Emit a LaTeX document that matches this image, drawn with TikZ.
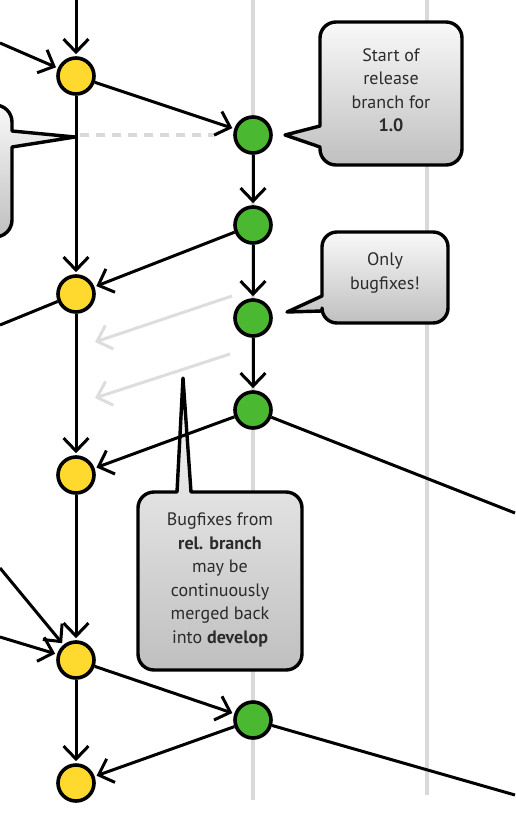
\documentclass[tikz,border=0pt]{standalone}
\usepackage{fontspec}
\setmainfont{PT Sans}
\usetikzlibrary{arrows.meta}
\definecolor{devyellow}{HTML}{FFD92E}
\definecolor{relgreen}{HTML}{4BB832}
\definecolor{lanegray}{HTML}{D9D9D9}
\definecolor{ghost}{HTML}{DDDDDD}
\definecolor{txt}{HTML}{2B2B2B}
\tikzset{
  lane/.style={line width=4pt, lanegray},
  yel/.style={circle, draw=black, line width=3.6pt, fill=devyellow, minimum size=36pt, inner sep=0pt},
  grn/.style={circle, draw=black, line width=3.6pt, fill=relgreen, minimum size=36pt, inner sep=0pt},
  flow/.style={line width=3pt, black, -{Straight Barb[length=13pt,width=25pt,line width=3pt]}, shorten >=2pt},
  plain/.style={line width=3pt, black},
  ghostarrow/.style={line width=3pt, ghost, -{Straight Barb[length=13pt,width=25pt,line width=3pt]}},
  dashline/.style={line width=3.5pt, lanegray, dash pattern=on 9pt off 7pt},
  callout/.style={draw=black, line width=3.4pt, top color=white!95!gray, bottom color=black!25, line join=round},
  ctext/.style={align=center, text=txt, font=\fontsize{18}{23.5}\selectfont, inner sep=0pt}
}
\begin{document}
\begin{tikzpicture}[x=1pt,y=-1pt]
\useasboundingbox (0,0) rectangle (515,825);
% lanes
\coordinate (laneAtop) at (253,0);
\coordinate (laneAbot) at (253,800);
\coordinate (laneBtop) at (427,0);
\coordinate (laneBbot) at (427,795);
\draw[lane] (laneAtop) -- (laneAbot);
\draw[lane] (laneBtop) -- (laneBbot);

% callouts (behind edges)
\draw[callout] (391,22) [rounded corners=16pt] -- (462,22) -- (462,165) -- (320,165) [sharp corners] -- (320,147) -- (285,135) -- (320,126) [rounded corners=16pt] -- (320,22) -- cycle;
\node[ctext] (c1) at (391,90) {Start of\\release\\branch for\\\textbf{1.0}};

\draw[callout] (385,232) [rounded corners=15pt] -- (448,232) -- (448,323) -- (322,323) [sharp corners] -- (322,311) -- (287,312) -- (322,296) [rounded corners=15pt] -- (322,232) -- cycle;
\node[ctext] (c2) at (385,273) {Only\\bugfixes!};

\draw[callout] (-60,105) [rounded corners=17pt] -- (12,105) [sharp corners] -- (12,131) -- (75,137) -- (12,147) [rounded corners=17pt] -- (12,237) -- (-60,237) -- cycle;

\draw[callout] (220,492) [rounded corners=16pt] -- (302,492) -- (302,670) -- (138,670) -- (138,492) [sharp corners] -- (177,492) -- (183,378) -- (191,492) [rounded corners=16pt] -- cycle;
\node[ctext] (c3) at (220,580) {Bugfixes from\\\textbf{rel. branch}\\may be\\continuously\\merged back\\into \textbf{develop}};

% commits
\node[yel] (Y1) at (76,76) {};
\node[yel] (Y2) at (76,294) {};
\node[yel] (Y3) at (76,475) {};
\node[yel] (Y4) at (76,660) {};
\node[yel] (Y5) at (76,783) {};
\node[grn] (G1) at (253,135) {};
\node[grn] (G2) at (253,225) {};
\node[grn] (G3) at (253,318) {};
\node[grn] (G4) at (253,410) {};
\node[grn] (G5) at (253,720) {};

% free ends
\coordinate (topD) at (76,0);
\coordinate (inL1) at (0,43);
\coordinate (outL1) at (0,325);
\coordinate (inL2) at (0,568);
\coordinate (inL3) at (0,637);
\coordinate (outR1) at (515,513);
\coordinate (outR2) at (515,795);
\coordinate (dashS) at (80,135);
\coordinate (g1s) at (232,296);
\coordinate (g1e) at (95,342);
\coordinate (g2s) at (230,354);
\coordinate (g2e) at (95,398);

% edges
\draw[dashline] (dashS) -- ([xshift=-20pt]G1.west);
\draw[ghostarrow] (g1s) -- (g1e);
\draw[ghostarrow] (g2s) -- (g2e);
\draw[flow] (topD) -- (Y1);
\draw[flow] (inL1) -- (Y1);
\draw[flow] (Y1) -- (G1);
\draw[flow] (Y1) -- (Y2);
\draw[flow] (G1) -- (G2);
\draw[flow] (G2) -- (Y2);
\draw[flow] (G2) -- (G3);
\draw[flow] (G3) -- (G4);
\draw[flow] (G4) -- (Y3);
\draw[plain] (G4) -- (outR1);
\draw[plain] (Y2) -- (outL1);
\draw[flow] (Y2) -- (Y3);
\draw[flow] (Y3) -- (Y4);
\draw[flow] (inL2) -- (Y4);
\draw[flow] (inL3) -- (Y4);
\draw[flow] (Y4) -- (G5);
\draw[flow] (Y4) -- (Y5);
\draw[flow] (G5) -- (Y5);
\draw[plain] (G5) -- (outR2);
\end{tikzpicture}
\end{document}
